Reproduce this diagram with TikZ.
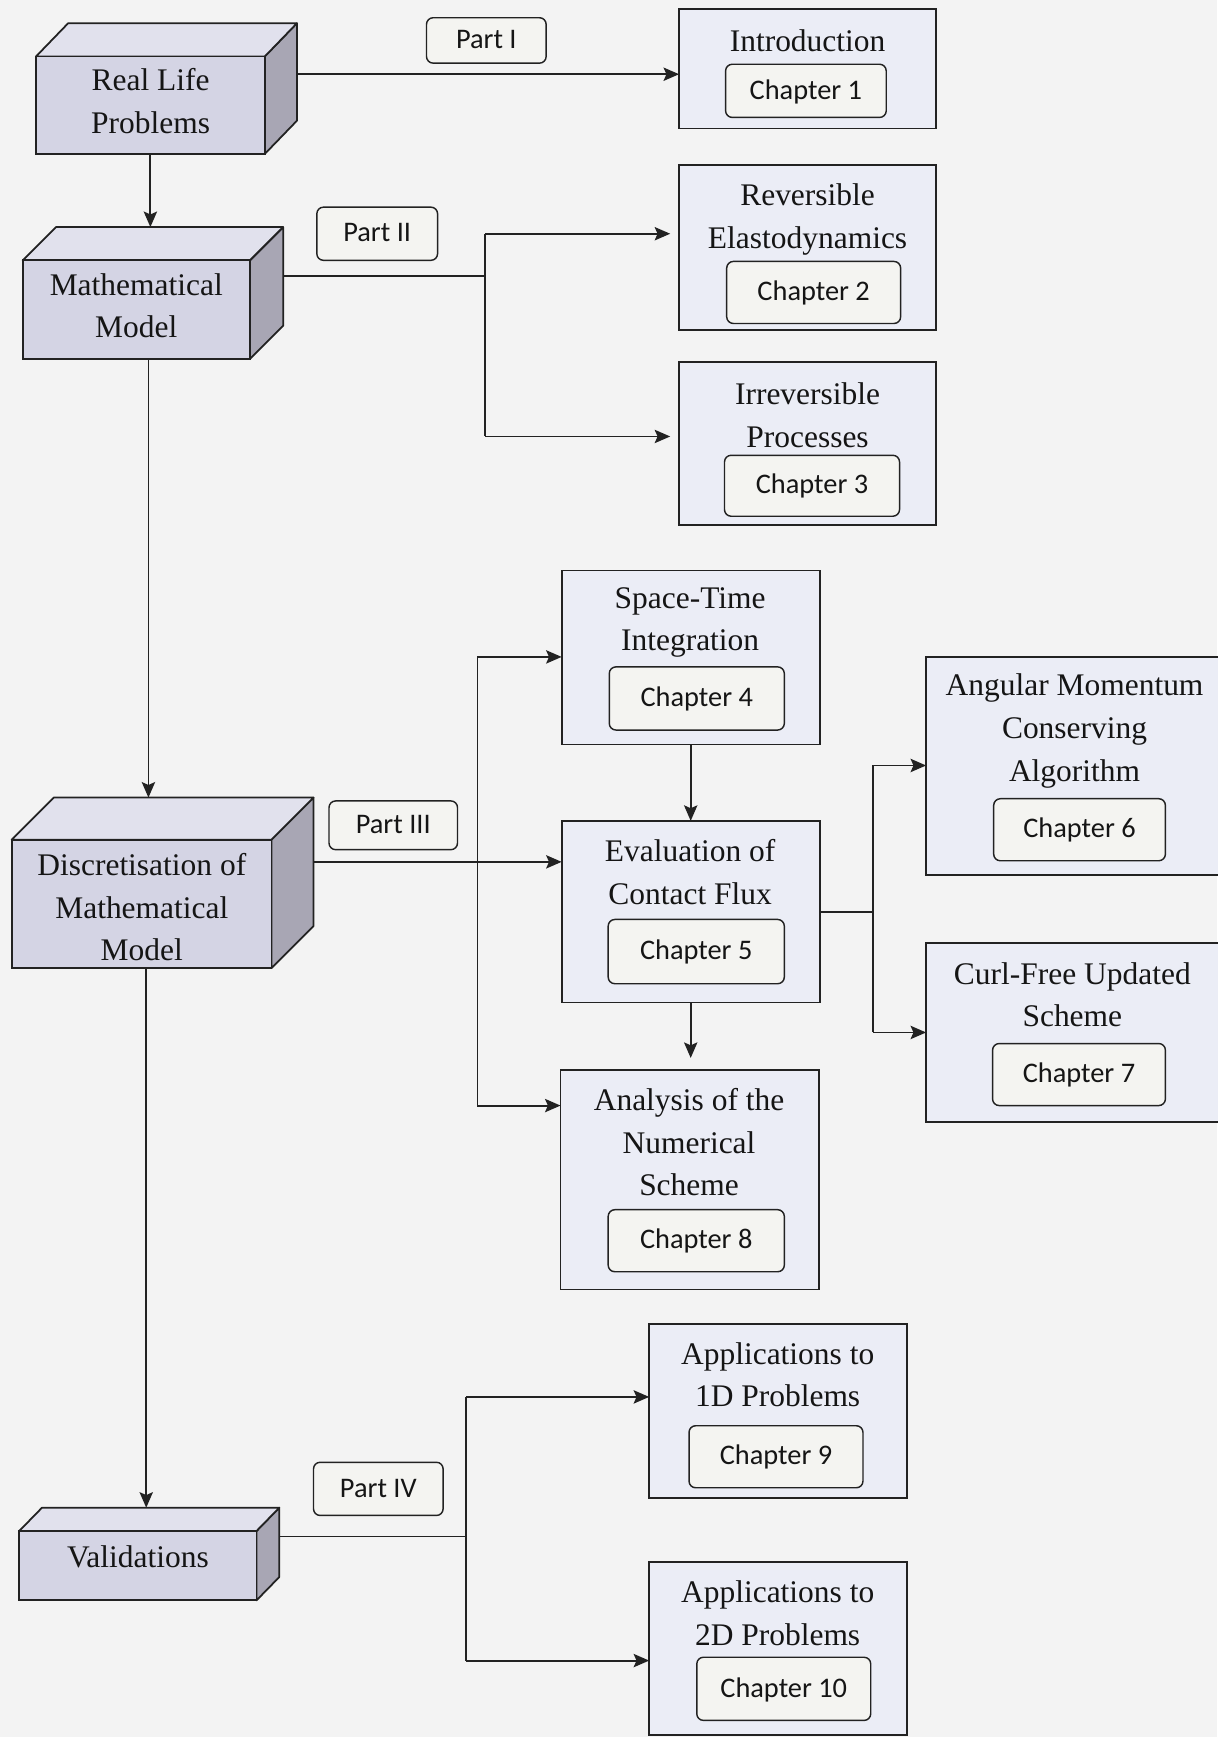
\documentclass[tikz,border=0pt]{standalone}
\usepackage{fontspec}
\setmainfont{Liberation Serif}
\newfontfamily\labelfont{Carlito}
\usetikzlibrary{arrows.meta,fit,calc}

\definecolor{paper}{HTML}{F3F3F3}
\definecolor{ink}{HTML}{222222}
\definecolor{textink}{HTML}{151515}
\definecolor{chapfill}{HTML}{EBEDF6}
\definecolor{tagfill}{HTML}{F4F4F1}
\definecolor{frontcol}{HTML}{D4D4E4}
\definecolor{topcol}{HTML}{E1E1ED}
\definecolor{sidecol}{HTML}{A8A6B4}

% A solid block: front face node #1 spanning (#2,#3)-(#4,#5), extruded by (#6,#7)
\newcommand\solidblock[7]{%
  \filldraw[sideface] (#4,#3) -- ({#4+#6},{#3-#7}) -- ({#4+#6},{#5-#7}) -- (#4,#5) -- cycle;
  \filldraw[topface] (#2,#3) -- ({#2+#6},{#3-#7}) -- ({#4+#6},{#3-#7}) -- (#4,#3) -- cycle;
  \node[frontface, fit={(#2,#3) (#4,#5)}] (#1) {};
  \coordinate (#1-top) at ({#2+#6},{#3-#7});
}

\begin{document}
\begin{tikzpicture}[x=0.5pt,y=-0.5pt,
  every node/.style={inner sep=0pt, outer sep=0pt},
  frontface/.style={draw=ink, fill=frontcol, line width=0.8pt},
  topface/.style={draw=ink, fill=topcol, line width=0.8pt, line join=round},
  sideface/.style={draw=ink, fill=sidecol, line width=0.8pt, line join=round},
  chapbox/.style={draw=ink, fill=chapfill, line width=0.8pt},
  title/.style={align=center, text=textink, font=\fontsize{14.2pt}{19.3pt}\selectfont},
  tag/.style={draw=ink, fill=tagfill, rounded corners=3pt, line width=0.65pt, text=textink,
    text height=0.74em, text depth=0pt,
    font=\labelfont\fontsize{12.8pt}{15pt}\selectfont},
  link/.style={draw=ink, line width=0.85pt},
  arr/.style={link, -{Stealth[length=7pt,width=6pt,inset=1.3pt]}},
]
\fill[paper] (0,0) rectangle (1099,1568);
\useasboundingbox (0,0) rectangle (1099,1568);

% ---- left column: the four stages ----
\solidblock{rl}{32.5}{51}{239}{139}{29}{30}
\node[title] at (136,91) {Real Life\\Problems};

\solidblock{mm}{20.5}{235}{225.6}{324}{30}{30}
\node[title] at (123,276) {Mathematical\\Model};

\solidblock{disc}{10.5}{758}{245}{874}{38}{38}
\node[title] at (128,819) {Discretisation of\\Mathematical\\Model};

\solidblock{val}{17.4}{1382}{231.6}{1444.6}{20.5}{21}
\node[title] at (124.5,1405) {Validations};

% ---- part labels ----
\node[tag, minimum width=54pt, minimum height=20.5pt] (p1) at (439,36.5) {Part I};
\node[tag, minimum width=54.5pt, minimum height=24pt] (p2) at (340.5,211) {Part II};
\node[tag, minimum width=58pt, minimum height=22pt] (p3) at (355,745) {Part III};
\node[tag, minimum width=58.5pt, minimum height=24pt] (p4) at (341.5,1344) {Part IV};

% ---- chapter boxes ----
\node[chapbox, fit={(613,8) (845,116)}] (intro) {};
\node[title] at (729,37) {Introduction};
\node[tag, minimum width=72.5pt, minimum height=24pt] (c1) at (727.5,82) {Chapter 1};

\node[chapbox, fit={(613,149) (845,298)}] (rev) {};
\node[title] at (729,198) {Reversible\\Elastodynamics};
\node[tag, minimum width=78.5pt, minimum height=28pt] (c2) at (734.5,264) {Chapter 2};

\node[chapbox, fit={(613,327) (845,474)}] (irr) {};
\node[title] at (729,375) {Irreversible\\Processes};
\node[tag, minimum width=79pt, minimum height=27.5pt] (c3) at (733,438.5) {Chapter 3};

\node[chapbox, fit={(507,515) (740,672)}] (st) {};
\node[title] at (623,562) {Space-Time\\Integration};
\node[tag, minimum width=79pt, minimum height=28.5pt] (c4) at (629,630.5) {Chapter 4};

\node[chapbox, fit={(507,741) (740,905)}] (eval) {};
\node[title] at (623,787) {Evaluation of\\Contact Flux};
\node[tag, minimum width=79.5pt, minimum height=29pt] (c5) at (628.5,859) {Chapter 5};

\node[chapbox, fit={(506,966) (739,1164)}] (ana) {};
\node[title] at (622,1031) {Analysis of the\\Numerical\\Scheme};
\node[tag, minimum width=79.5pt, minimum height=28pt] (c8) at (628.5,1120) {Chapter 8};

\node[chapbox, fit={(836,593) (1106,790)}] (ang) {};
\node[title] at (970,660) {Angular Momentum\\Conserving\\Algorithm};
\node[tag, minimum width=77.5pt, minimum height=28pt] (c6) at (974.5,749) {Chapter 6};

\node[chapbox, fit={(836,851) (1106,1013)}] (curl) {};
\node[title] at (968,898) {Curl-Free Updated\\Scheme};
\node[tag, minimum width=78pt, minimum height=28pt] (c7) at (974,970) {Chapter 7};

\node[chapbox, fit={(586,1195) (819,1352)}] (aone) {};
\node[title] at (702,1241) {Applications to\\1D Problems};
\node[tag, minimum width=78.5pt, minimum height=28pt] (c9) at (700.5,1315) {Chapter 9};

\node[chapbox, fit={(586,1410) (819,1566)}] (atwo) {};
\node[title] at (702,1456) {Applications to\\2D Problems};
\node[tag, minimum width=78.5pt, minimum height=28.5pt] (c10) at (707.5,1524.5) {Chapter 10};

% ---- connectors ----
% Part I
\coordinate (rlOut) at (268,67);
\draw[arr] (rlOut) -- (rlOut -| intro.west);
\draw[arr] (rl.south) -- (rl.south |- mm-top);

% Part II
\coordinate (mmOut) at (255.6,249);
\coordinate (jtwo) at (438,249);
\coordinate (jtwoA) at (438,211);
\coordinate (jtwoB) at (438,394);
\draw[link] (mmOut) -- (jtwo);
\draw[link] (jtwoA) -- (jtwoB);
\draw[arr, shorten >=4pt] (jtwoA) -- (jtwoA -| rev.west);
\draw[arr, shorten >=4pt] (jtwoB) -- (jtwoB -| irr.west);

\coordinate (mmDown) at (134,324);
\draw[arr] (mmDown) -- (mmDown |- disc-top);

% Part III
\coordinate (discOut) at (283,778);
\coordinate (jthreeA) at (431,593);
\coordinate (jthreeB) at (431,998);
\draw[arr] (discOut) -- (discOut -| eval.west);
\draw[link] (jthreeA) -- (jthreeB);
\draw[arr] (jthreeA) -- (jthreeA -| st.west);
\draw[arr] (jthreeB) -- (jthreeB -| ana.west);
\draw[arr] (st.south) -- (eval.north);
\draw[arr, shorten >=5.5pt] (eval.south) -- (eval.south |- ana.north);

\coordinate (jfour) at (788,823);
\coordinate (jfourA) at (788,691);
\coordinate (jfourB) at (788,932);
\draw[link] (eval.east) -- (jfour);
\draw[link] (jfourA) -- (jfourB);
\draw[arr] (jfourA) -- (jfourA -| ang.west);
\draw[arr] (jfourB) -- (jfourB -| curl.west);

\coordinate (discDown) at (132,874);
\draw[arr] (discDown) -- (discDown |- val-top);

% Part IV
\coordinate (valOut) at (252,1387);
\coordinate (jfive) at (421,1387);
\coordinate (jfiveA) at (421,1261);
\coordinate (jfiveB) at (421,1499);
\draw[link] (valOut) -- (jfive);
\draw[link] (jfiveA) -- (jfiveB);
\draw[arr] (jfiveA) -- (jfiveA -| aone.west);
\draw[arr] (jfiveB) -- (jfiveB -| atwo.west);
\end{tikzpicture}
\end{document}
